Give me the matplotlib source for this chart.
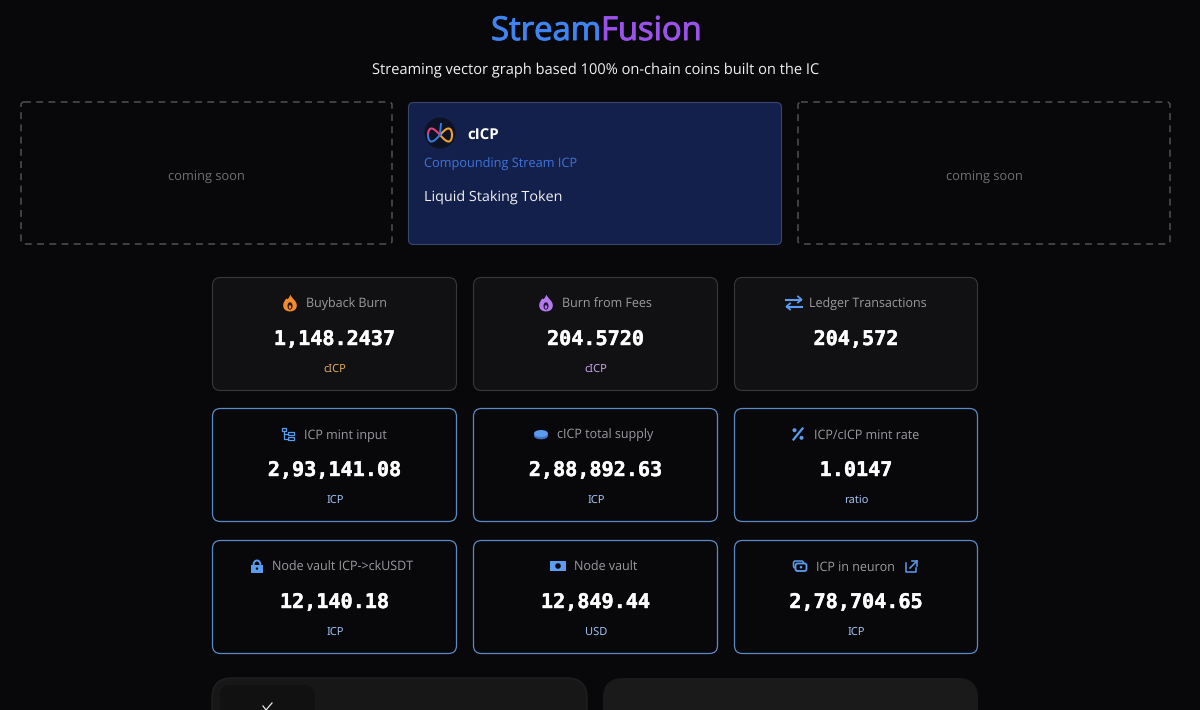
import matplotlib
matplotlib.use("Agg")
import matplotlib.pyplot as plt
import matplotlib.patheffects as pe
from matplotlib.patches import FancyBboxPatch, Circle, Ellipse, PathPatch, Rectangle
from matplotlib.path import Path
import numpy as np

plt.rcParams["text.hinting"] = "no_hinting"

TITLE_A, TITLE_B = "Stream", "Fusion"
SUBTITLE = "Streaming vector graph based 100% on-chain coins built on the IC"
SOON = "coming soon"
COIN, COIN_NAME, COIN_KIND = "cICP", "Compounding Stream ICP", "Liquid Staking Token"
LABELS = ["Buyback Burn", "Burn from Fees", "Ledger Transactions",
          "ICP mint input", "cICP total supply", "ICP/cICP mint rate",
          "Node vault ICP->ckUSDT", "Node vault", "ICP in neuron"]
VALUES = ["1,148.2437", "204.5720", "204,572",
          "2,93,141.08", "2,88,892.63", "1.0147",
          "12,140.18", "12,849.44", "2,78,704.65"]
UNITS = ["cICP", "cICP", "", "ICP", "ICP", "ratio", "ICP", "USD", "ICP"]
ICONS = ["flame_o", "flame_p", "swap", "tree", "coin", "pct", "lock", "cash", "neuron"]

SANS = ["Open Sans", "DejaVu Sans"]
UNIT_FONT = ["Noto Sans", "DejaVu Sans"]
MONO = ["DejaVu Sans Mono"]
BG = "#08080b"
BLUE = "#5b9cf0"

fig = plt.figure(figsize=(12, 7.1), dpi=100, facecolor=BG)
ax = fig.add_axes([0, 0, 1, 1])
ax.set_xlim(0, 1200); ax.set_ylim(710, 0); ax.axis("off")


def box(x0, y0, x1, y1, r, fc, ec, lw=1.0, ls="-", z=1):
    p = FancyBboxPatch((x0 + r, y0 + r), x1 - x0 - 2 * r, y1 - y0 - 2 * r,
                       boxstyle=f"round,pad={r},rounding_size={r}",
                       fc=fc, ec=ec, lw=lw, ls=ls, zorder=z)
    ax.add_patch(p)
    return p


def txt(x, y, s, size, color, ha="center", weight="normal", family=SANS, stroke=0):
    t = ax.text(x, y, s, fontsize=size, color=color, ha=ha, va="baseline",
                fontweight=weight, family=family, zorder=5)
    if stroke:
        t.set_path_effects([pe.withStroke(linewidth=stroke, foreground=color)])
    return t


def flame(cx, cy, col, bg):
    s = 8.0
    v = [(0.05, -1.05), (0.25, -0.5), (0.85, -0.3), (0.85, 0.3), (0.85, 0.8), (0.5, 1.05), (0, 1.05),
         (-0.5, 1.05), (-0.85, 0.8), (-0.85, 0.3), (-0.85, -0.1), (-0.6, -0.35), (-0.45, -0.6),
         (-0.3, -0.3), (-0.15, -0.6), (0.05, -1.05), (0.05, -1.05)]
    c = [Path.MOVETO] + [Path.CURVE4] * 15 + [Path.CLOSEPOLY]
    ax.add_patch(PathPatch(Path([(cx + a * s, cy + b * s) for a, b in v], c), fc=col, ec="none", zorder=5))
    ax.add_patch(Ellipse((cx, cy + 3), 5, 7.5, fc=bg, ec="none", zorder=6))
    ax.add_patch(Ellipse((cx, cy + 4), 2.4, 3.6, fc=col, ec="none", zorder=7))


def icon(kind, cx, cy):
    if kind == "flame_o":
        flame(cx, cy, "#f28a30", "#2a1a0e")
    elif kind == "flame_p":
        flame(cx, cy, "#b57bee", "#22163a")
    elif kind == "swap":
        ax.plot([cx - 8, cx + 7], [cy - 3.5, cy - 3.5], color=BLUE, lw=1.5, zorder=5)
        ax.plot([cx + 4, cx + 7.5, cx + 4], [cy - 6.5, cy - 3.5, cy - 0.5], color=BLUE, lw=1.3, zorder=5)
        ax.plot([cx - 7, cx + 8], [cy + 3.5, cy + 3.5], color=BLUE, lw=1.5, zorder=5)
        ax.plot([cx - 4, cx - 7.5, cx - 4], [cy + 0.5, cy + 3.5, cy + 6.5], color=BLUE, lw=1.3, zorder=5)
    elif kind == "tree":
        for a, b, w in [(-6, -6, 4), (0, -2, 6), (0, 3, 6)]:
            ax.add_patch(Rectangle((cx + a, cy + b), w, 3, fc="none", ec=BLUE, lw=0.9, zorder=5))
        ax.plot([cx - 4, cx - 4, cx], [cy - 3, cy + 4.5, cy + 4.5], color=BLUE, lw=0.9, zorder=5)
        ax.plot([cx - 4, cx], [cy - 0.5, cy - 0.5], color=BLUE, lw=0.9, zorder=5)
    elif kind == "coin":
        ax.add_patch(Ellipse((cx, cy + 1.8), 14, 7, fc="#3f73bd", ec="none", zorder=5))
        ax.add_patch(Ellipse((cx, cy - 0.5), 14, 7, fc=BLUE, ec="none", zorder=6))
    elif kind == "pct":
        ax.plot([cx - 4.5, cx + 4.5], [cy + 5.5, cy - 5.5], color=BLUE, lw=1.6, zorder=5)
        ax.add_patch(Circle((cx - 3.5, cy - 3.8), 2.0, fc=BLUE, ec="none", zorder=5))
        ax.add_patch(Circle((cx + 3.5, cy + 3.8), 2.0, fc=BLUE, ec="none", zorder=5))
    elif kind == "lock":
        ax.add_patch(Rectangle((cx - 6, cy - 1), 12, 7.5, fc=BLUE, ec="none", zorder=5))
        ax.plot(cx + 3.4 * np.cos(np.linspace(0, np.pi, 30)), cy - 1.5 - 4 * np.sin(np.linspace(0, np.pi, 30)),
                color=BLUE, lw=1.4, zorder=5)
        ax.add_patch(Circle((cx, cy + 2.6), 1.2, fc=BG, ec="none", zorder=6))
    elif kind == "cash":
        ax.add_patch(Rectangle((cx - 8, cy - 5), 16, 10, fc=BLUE, ec="none", zorder=5))
        ax.add_patch(Circle((cx, cy), 2.8, fc=BG, ec="none", zorder=6))
    elif kind == "neuron":
        box(cx - 6.5, cy - 5, cx + 3.5, cy + 2, 2, "none", BLUE, lw=1.1, z=5)
        box(cx - 4.5, cy - 2.5, cx + 6.5, cy + 5, 2, BG, BLUE, lw=1.3, z=6)
        ax.add_patch(Circle((cx + 1, cy + 1.2), 1.3, fc=BLUE, ec="none", zorder=7))


# header
txt(601, 40, TITLE_A, 23.6, "#3f84f2", ha="right", stroke=0.7)
txt(601, 40, TITLE_B, 23.6, "#9a52ea", ha="left", stroke=0.7)
txt(595.5, 74, SUBTITLE, 10.55, "#f2f2f2")

# product cards
for x0, x1 in [(21, 392), (798, 1170)]:
    box(x0, 102, x1, 244, 3, "none", "#505050", lw=1.1, ls=(0, (4.5, 3.5)))
    txt((x0 + x1) / 2, 179.5, SOON, 9.3, "#6f6f72")
box(408.5, 102.5, 781.5, 244.5, 5, "#14204c", "#39456b", lw=0.8)
ax.add_patch(Circle((440, 133), 15.5, fc="#0d1224", ec="none", zorder=3))
t = np.linspace(0, 2 * np.pi, 120)
lx = 440 + 12 * np.cos(t)
ly = 135 + 6.5 * np.sin(2 * t)
ax.plot(lx[:30], ly[:30], color="#f0a030", lw=1.5, zorder=4)
ax.plot(lx[90:], ly[90:], color="#f0a030", lw=1.5, zorder=4)
ax.plot(lx[30:60], ly[30:60], color="#e0407a", lw=1.5, zorder=4)
ax.plot(lx[60:90], ly[60:90], color="#3a78d8", lw=1.5, zorder=4)
ax.plot([441, 440], [124, 133], color="#3a78d8", lw=1.4, zorder=4)
txt(467, 139.5, COIN, 10.8, "#ffffff", ha="left", weight="bold")
txt(424.5, 168, COIN_NAME, 9.2, "#3f74dc", ha="left")
txt(424.5, 202, COIN_KIND, 10.4, "#f2f2f2", ha="left")

# stat cards
COLS = [(212, 457), (473, 718), (734, 978)]
ROWS = [(277, 391), (408, 522), (540, 654)]
ICON_X = [290, 546, 794, 288, 541, 798, 257, 558, 800]
LABEL_X = [306, 562, 809, 304, 557, 814, 272, 574, 816]
UNIT_COL = {0: "#e0a860", 1: "#c9a5ee"}
for i in range(9):
    x0, x1 = COLS[i % 3]
    y0, y1 = ROWS[i // 3]
    cx = (x0 + x1) / 2
    if i < 3:
        box(x0 + .5, y0 + .5, x1 - .5, y1 - .5, 8, "#111113", "#38383b", lw=0.8)
    else:
        box(x0 + .5, y0 + .5, x1 - .5, y1 - .5, 8, "#08080b", "#5b8ac6", lw=0.9)
    icon(ICONS[i], ICON_X[i], y0 + 26)
    txt(LABEL_X[i], y0 + 31, LABELS[i], 9.0, "#9b9ba0", ha="left")
    if i == 8:
        ax.plot([906, 906, 916, 916], [y0 + 23, y0 + 32, y0 + 32, y0 + 28],
                color=BLUE, lw=1.1, zorder=5)
        ax.plot([910, 917], [y0 + 28, y0 + 21], color=BLUE, lw=1.1, zorder=5)
        ax.plot([912, 917, 917], [y0 + 21, y0 + 21, y0 + 26], color=BLUE, lw=1.1, zorder=5)
    txt(cx, y0 + 68, VALUES[i], 14.5, "#ffffff", weight="bold", family=MONO, stroke=0.3)
    if UNITS[i]:
        txt(cx + 0.5, y0 + 95, UNITS[i], 8.0, UNIT_COL.get(i, "#9fc0f0"), family=UNIT_FONT)

# lower panels, cut off by the image edge
ax.add_patch(FancyBboxPatch((232, 698), 335, 60, boxstyle="round,pad=20,rounding_size=20",
                            fc="#171718", ec="#202022", lw=1.0, zorder=1))
ax.add_patch(FancyBboxPatch((623, 698), 335, 60, boxstyle="round,pad=20,rounding_size=20",
                            fc="#1a1a1b", ec="none", zorder=1))
ax.add_patch(FancyBboxPatch((230, 695), 75, 60, boxstyle="round,pad=10,rounding_size=10",
                            fc="#111112", ec="none", zorder=2))
ax.plot([263, 266, 272], [706, 710, 703], color="#e8e8e8", lw=0.9, zorder=5)

fig.savefig("out.png", dpi=100, facecolor=BG)
